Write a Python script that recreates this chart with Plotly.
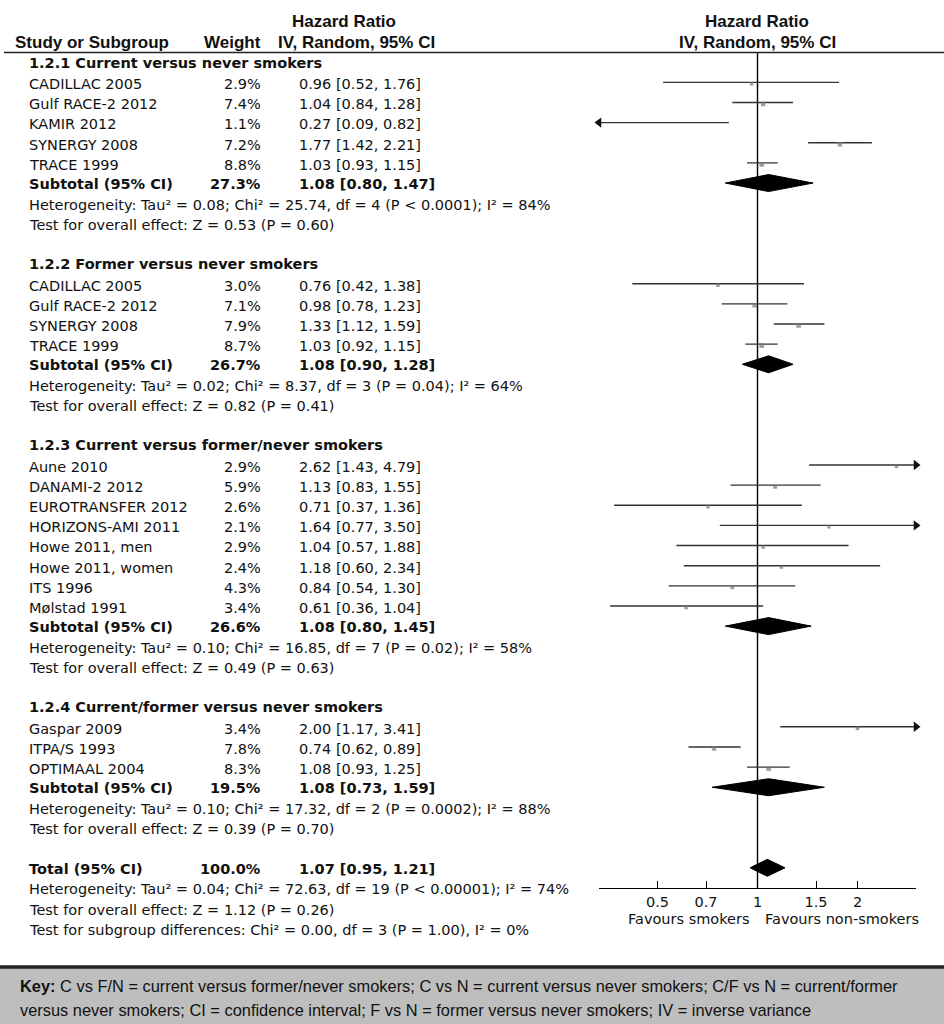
import math
import plotly.graph_objects as go

# ---------------- data ----------------
group_titles = [
    "1.2.1 Current versus never smokers",
    "1.2.2 Former versus never smokers",
    "1.2.3 Current versus former/never smokers",
    "1.2.4 Current/former versus never smokers",
]
study_names = [
    ["CADILLAC 2005", "Gulf RACE-2 2012", "KAMIR 2012", "SYNERGY 2008", "TRACE 1999"],
    ["CADILLAC 2005", "Gulf RACE-2 2012", "SYNERGY 2008", "TRACE 1999"],
    ["Aune 2010", "DANAMI-2 2012", "EUROTRANSFER 2012", "HORIZONS-AMI 2011",
     "Howe 2011, men", "Howe 2011, women", "ITS 1996", "Mølstad 1991"],
    ["Gaspar 2009", "ITPA/S 1993", "OPTIMAAL 2004"],
]
study_weights = [
    [2.9, 7.4, 1.1, 7.2, 8.8],
    [3.0, 7.1, 7.9, 8.7],
    [2.9, 5.9, 2.6, 2.1, 2.9, 2.4, 4.3, 3.4],
    [3.4, 7.8, 8.3],
]
study_hr = [
    [0.96, 1.04, 0.27, 1.77, 1.03],
    [0.76, 0.98, 1.33, 1.03],
    [2.62, 1.13, 0.71, 1.64, 1.04, 1.18, 0.84, 0.61],
    [2.00, 0.74, 1.08],
]
study_lo = [
    [0.52, 0.84, 0.09, 1.42, 0.93],
    [0.42, 0.78, 1.12, 0.92],
    [1.43, 0.83, 0.37, 0.77, 0.57, 0.60, 0.54, 0.36],
    [1.17, 0.62, 0.93],
]
study_hi = [
    [1.76, 1.28, 0.82, 2.21, 1.15],
    [1.38, 1.23, 1.59, 1.15],
    [4.79, 1.55, 1.36, 3.50, 1.88, 2.34, 1.30, 1.04],
    [3.41, 0.89, 1.25],
]
sub_weight = [27.3, 26.7, 26.6, 19.5]
sub_hr = [1.08, 1.08, 1.08, 1.08]
sub_lo = [0.80, 0.90, 0.80, 0.73]
sub_hi = [1.47, 1.28, 1.45, 1.59]
sub_het = [
    "Heterogeneity: Tau² = 0.08; Chi² = 25.74, df = 4 (P < 0.0001); I² = 84%",
    "Heterogeneity: Tau² = 0.02; Chi² = 8.37, df = 3 (P = 0.04); I² = 64%",
    "Heterogeneity: Tau² = 0.10; Chi² = 16.85, df = 7 (P = 0.02); I² = 58%",
    "Heterogeneity: Tau² = 0.10; Chi² = 17.32, df = 2 (P = 0.0002); I² = 88%",
]
sub_test = [
    "Test for overall effect: Z = 0.53 (P = 0.60)",
    "Test for overall effect: Z = 0.82 (P = 0.41)",
    "Test for overall effect: Z = 0.49 (P = 0.63)",
    "Test for overall effect: Z = 0.39 (P = 0.70)",
]
total_weight = 100.0
total_hr, total_lo, total_hi = 1.07, 0.95, 1.21
total_notes = [
    "Heterogeneity: Tau² = 0.04; Chi² = 72.63, df = 19 (P < 0.00001); I² = 74%",
    "Test for overall effect: Z = 1.12 (P = 0.26)",
    "Test for subgroup differences: Chi² = 0.00, df = 3 (P = 1.00), I² = 0%",
]
tick_vals = [0.5, 0.7, 1, 1.5, 2]
tick_text = ["0.5", "0.7", "1", "1.5", "2"]
axis_min, axis_max = 1 / 3, 3
favours_left = "Favours smokers"
favours_right = "Favours non-smokers"
key_line1 = ("<b>Key:</b> C vs F/N = current versus former/never smokers; C vs N = current versus "
             "never smokers; C/F vs N = current/former")
key_line2 = ("versus never smokers; CI = confidence interval; F vs N = former versus never smokers; "
             "IV = inverse variance")

# ---------------- layout constants ----------------
W, H = 944, 1024
Y0, PITCH = 62.2, 20.14
TOP_LINE, AXIS_Y = 52.5, 888
X_NAME, X_WEIGHT, X_CI = 27, 263, 297
FS = 14.5
BODY = dict(family="DejaVu Sans", size=FS, color="#111")
HEAD = dict(family="Liberation Sans Narrow, Arial Narrow, sans-serif", size=17, color="#111", weight="bold")
KEYF = dict(family="Liberation Sans Narrow, Arial Narrow, sans-serif", size=16.4, color="#111")


def row_y(k):
    return Y0 + PITCH * k


def py(p):
    return 1 - p / H


fig = go.Figure()
ann = []


def text(x, y, s, font, anchor="left"):
    ann.append(dict(x=x / W, y=py(y), xref="paper", yref="paper", text=s, showarrow=False,
                    xanchor=anchor, yanchor="middle", font=font))


LINE_C = "#333"


def ci_trace(y, lo, hi):
    lo_c = max(lo, axis_min)
    hi_c = min(hi, axis_max)
    fig.add_trace(go.Scatter(x=[lo_c, hi_c], y=[y, y], mode="lines",
                             line=dict(color=LINE_C, width=1.4), hoverinfo="skip", showlegend=False,
                             cliponaxis=False))
    if lo < axis_min:
        fig.add_trace(go.Scatter(x=[lo_c], y=[y], mode="markers",
                                 marker=dict(symbol="triangle-left", size=9, color="#111"),
                                 showlegend=False, cliponaxis=False, hoverinfo="skip"))
    if hi > axis_max:
        fig.add_trace(go.Scatter(x=[hi_c], y=[y], mode="markers",
                                 marker=dict(symbol="triangle-right", size=9, color="#111"),
                                 showlegend=False, cliponaxis=False, hoverinfo="skip"))


def diamond(y, est, lo, hi, h=8.5):
    fig.add_trace(go.Scatter(x=[lo, est, hi, est, lo], y=[y, y - h, y, y + h, y], mode="lines",
                             fill="toself", fillcolor="black", line=dict(color="black", width=1),
                             hoverinfo="skip", showlegend=False))


# vertical line at 1
fig.add_trace(go.Scatter(x=[1, 1], y=[TOP_LINE, AXIS_Y], mode="lines",
                         line=dict(color="black", width=1.4), hoverinfo="skip", showlegend=False))

TXT_OFF = 1.8
k = 0
for g in range(4):
    text(X_NAME, row_y(k) + 0.5, "<b>%s</b>" % group_titles[g], BODY)
    k += 1
    xs, ys, sz = [], [], []
    for i, name in enumerate(study_names[g]):
        y = row_y(k)
        text(X_NAME, y + TXT_OFF, name, BODY)
        text(X_WEIGHT, y + TXT_OFF, "%.1f%%" % study_weights[g][i], BODY, "right")
        text(X_CI, y + TXT_OFF, "%.2f [%.2f, %.2f]" % (study_hr[g][i], study_lo[g][i], study_hi[g][i]), BODY)
        ci_trace(y, study_lo[g][i], study_hi[g][i])
        xs.append(study_hr[g][i])
        ys.append(y + 1.5)
        sz.append(2.8 + 0.22 * study_weights[g][i])
        k += 1
    fig.add_trace(go.Scatter(x=xs, y=ys, mode="markers",
                             marker=dict(symbol="square", size=sz, color="#777777", line=dict(width=0)),
                             hoverinfo="skip", showlegend=False))
    y = row_y(k)
    text(X_NAME, y + 0.8, "<b>Subtotal (95% CI)</b>", BODY)
    text(X_WEIGHT, y + 0.8, "<b>%.1f%%</b>" % sub_weight[g], BODY, "right")
    text(X_CI, y + 0.8, "<b>%.2f [%.2f, %.2f]</b>" % (sub_hr[g], sub_lo[g], sub_hi[g]), BODY)
    diamond(y, sub_hr[g], sub_lo[g], sub_hi[g])
    k += 1
    text(X_NAME, row_y(k) + 1.5, sub_het[g], BODY)
    k += 1
    text(X_NAME, row_y(k) + 1.5, sub_test[g], BODY)
    k += 2

y = row_y(k)
text(X_NAME, y + 0.8, "<b>Total (95% CI)</b>", BODY)
text(X_WEIGHT, y + 0.8, "<b>%.1f%%</b>" % total_weight, BODY, "right")
text(X_CI, y + 0.8, "<b>%.2f [%.2f, %.2f]</b>" % (total_hr, total_lo, total_hi), BODY)
diamond(y, total_hr, total_lo, total_hi)
for j, note in enumerate(total_notes):
    text(X_NAME, row_y(k + 1 + j) + 1.5, note, BODY)

# headers
text(13, 42, "Study or Subgroup", HEAD)
text(263, 42, "Weight", HEAD, "right")
text(276, 42, "IV, Random, 95% CI", HEAD)
text(344, 21, "Hazard Ratio", HEAD, "center")
text(757, 21, "Hazard Ratio", HEAD, "center")
text(757, 42, "IV, Random, 95% CI", HEAD, "center")

# favours labels
text(752, 919, favours_left, BODY, "right")
text(763, 919, favours_right, BODY, "left")

# key box
ann.append(dict(x=18 / W, y=py(986), xref="paper", yref="paper", text=key_line1, showarrow=False,
                xanchor="left", yanchor="middle", font=KEYF))
ann.append(dict(x=18 / W, y=py(1010), xref="paper", yref="paper", text=key_line2, showarrow=False,
                xanchor="left", yanchor="middle", font=KEYF))

shapes = [
    dict(type="line", xref="paper", yref="paper", x0=4 / W, x1=944 / W, y0=py(TOP_LINE), y1=py(TOP_LINE),
         line=dict(color="#222", width=1.6)),
    dict(type="rect", xref="paper", yref="paper", x0=0, x1=1, y0=0, y1=py(967),
         fillcolor="#bebebe", line=dict(width=0), layer="below"),
    dict(type="line", xref="paper", yref="paper", x0=0, x1=1, y0=py(967), y1=py(967),
         line=dict(color="#222", width=3.5)),
]

fig.update_layout(
    width=W, height=H, margin=dict(l=0, r=0, t=0, b=0),
    paper_bgcolor="white", plot_bgcolor="rgba(0,0,0,0)",
    annotations=ann, shapes=shapes, showlegend=False,
    xaxis=dict(type="log", range=[math.log10(axis_min), math.log10(axis_max)],
               domain=[599 / W, 916 / W], tickvals=tick_vals, ticktext=tick_text,
               ticks="inside", ticklen=7, tickwidth=1, tickcolor="black",
               showline=True, linecolor="black", linewidth=1.2, showgrid=False, zeroline=False,
               tickfont=dict(family="DejaVu Sans", size=FS, color="#111"), fixedrange=True),
    yaxis=dict(range=[AXIS_Y, TOP_LINE], domain=[py(AXIS_Y), py(TOP_LINE)],
               visible=False, showgrid=False, zeroline=False, fixedrange=True),
)

fig.write_html("out.html", config={"displayModeBar": False},
               post_script="document.body.style.margin='0px';document.body.style.overflow='hidden';")
